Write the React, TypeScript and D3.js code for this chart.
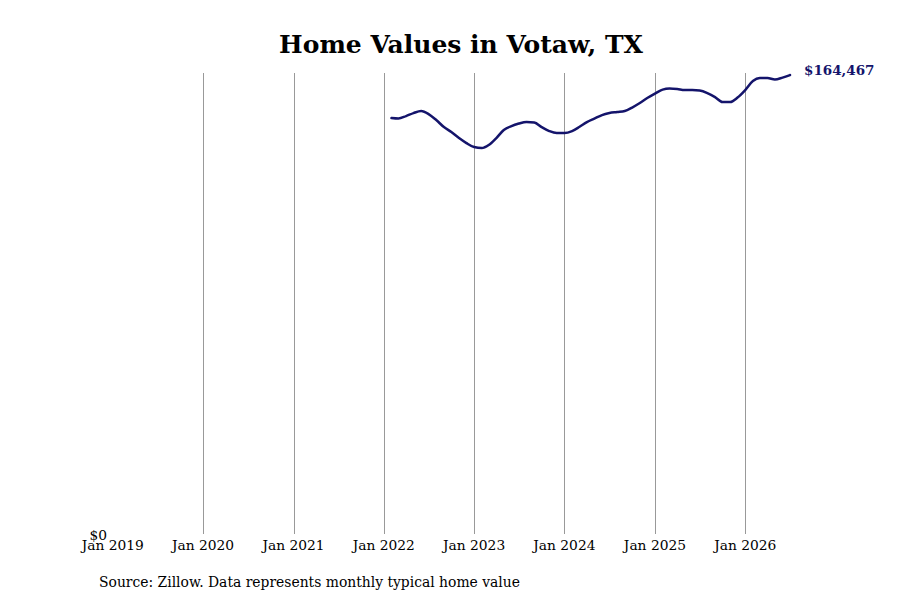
import React, { useEffect, useRef } from 'react';
import * as d3 from 'd3';

// Monthly typical home value, Feb 2022 .. Jul 2026
const START_MONTH = '2022-02';
const HOME_VALUES = [
  149050, 148870, 149770, 150840, 151560, 150490, 148340, 145830, 144040, 141890, 140090,
  138660, 138300, 139380, 141890, 144750, 146190, 147080, 147620, 147440, 145830, 144390, 143680,
  143680, 144390, 145830, 147620, 148870, 150130, 150840, 151200, 151560, 152820, 154430, 156220,
  157830, 159260, 159620, 159440, 159090, 159090, 158910, 158010, 156580, 154790, 154790, 156400,
  159090, 162310, 163380, 163380, 162850, 163560, 164467,
];
const TICK_YEARS = [2019, 2020, 2021, 2022, 2023, 2024, 2025, 2026];
const Y_MAX = 165200;

const App: React.FC = () => {
  const svgRef = useRef<SVGSVGElement>(null);

  useEffect(() => {
    if (!svgRef.current) return;
    d3.select(svgRef.current).selectAll('*').remove();

    const width = 900;
    const height = 600;
    const margin = { top: 73, right: 110, bottom: 66, left: 112.7 };
    const font = '"DejaVu Serif", serif';

    const svg = d3.select(svgRef.current)
      .attr('width', width)
      .attr('height', height)
      .style('display', 'block')
      .style('background', '#fff');

    const start = d3.timeParse('%Y-%m')(START_MONTH)!;
    const data = HOME_VALUES.map((v, i) => ({ date: d3.timeMonth.offset(start, i), value: v }));

    const x = d3.scaleTime()
      .domain([new Date(2019, 0, 1), data[data.length - 1].date])
      .range([margin.left, width - margin.right]);
    const y = d3.scaleLinear()
      .domain([0, Y_MAX])
      .range([height - margin.bottom, margin.top]);

    // Title
    svg.append('text')
      .attr('x', 461)
      .attr('y', 53)
      .attr('text-anchor', 'middle')
      .attr('font-family', font)
      .attr('font-weight', 'bold')
      .attr('font-size', 25)
      .attr('fill', '#000')
      .text('Home Values in Votaw, TX');

    // Vertical grid lines (not at the first tick)
    TICK_YEARS.slice(1).forEach(yr => {
      const gx = Math.round(x(new Date(yr, 0, 1))) + 0.5;
      svg.append('line')
        .attr('x1', gx)
        .attr('x2', gx)
        .attr('y1', margin.top)
        .attr('y2', height - margin.bottom)
        .attr('stroke', '#999')
        .attr('stroke-width', 1);
    });

    // X tick labels
    TICK_YEARS.forEach(yr => {
      svg.append('text')
        .attr('x', x(new Date(yr, 0, 1)))
        .attr('y', 550)
        .attr('text-anchor', 'middle')
        .attr('font-family', font)
        .attr('font-size', 13.8)
        .attr('fill', '#000')
        .text(`Jan ${yr}`);
    });

    // Y label at zero
    svg.append('text')
      .attr('x', 107)
      .attr('y', y(0) + 6)
      .attr('text-anchor', 'end')
      .attr('font-family', font)
      .attr('font-size', 13.8)
      .attr('fill', '#000')
      .text('$0');

    // The line
    const line = d3.line<{ date: Date; value: number }>()
      .x(d => x(d.date))
      .y(d => y(d.value))
      .curve(d3.curveMonotoneX);

    svg.append('path')
      .datum(data)
      .attr('d', line)
      .attr('fill', 'none')
      .attr('stroke', '#14146b')
      .attr('stroke-width', 2.5)
      .attr('stroke-linejoin', 'round')
      .attr('stroke-linecap', 'round');

    // End value label
    const last = data[data.length - 1];
    svg.append('text')
      .attr('x', x(last.date) + 14)
      .attr('y', y(last.value))
      .attr('font-family', font)
      .attr('font-weight', 'bold')
      .attr('font-size', 13.5)
      .attr('fill', '#14146b')
      .text(d3.format('$,')(last.value));

    // Source note
    svg.append('text')
      .attr('x', 99)
      .attr('y', 587)
      .attr('font-family', font)
      .attr('font-size', 13.9)
      .attr('fill', '#000')
      .text('Source: Zillow. Data represents monthly typical home value');
  }, []);

  return <svg ref={svgRef} style={{ margin: -8 }}></svg>;
};

export default App;
